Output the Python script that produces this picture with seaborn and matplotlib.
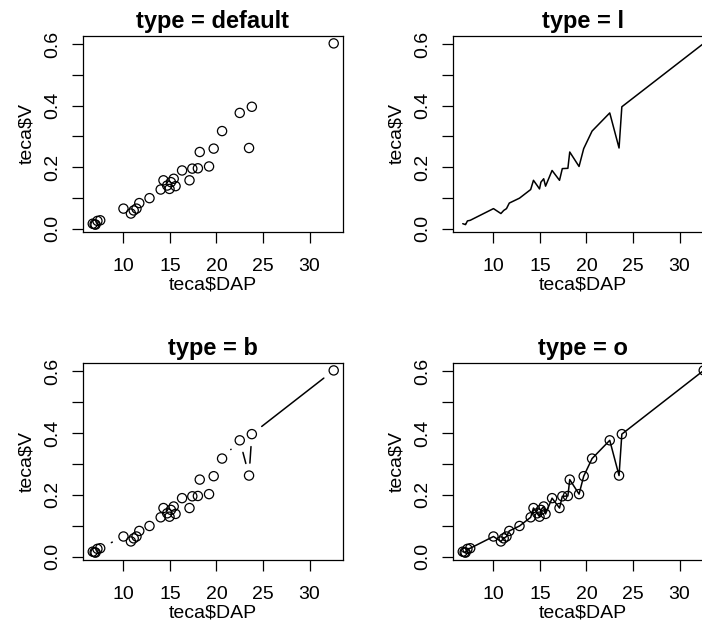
import numpy as np
import pandas as pd
import matplotlib
matplotlib.use("Agg")
import matplotlib.pyplot as plt
import seaborn as sns

# ---- data (teca dataset) ----
DAP = [6.7, 6.9, 7.0, 7.2, 7.5, 10.0, 10.8, 11.1, 11.4, 11.7, 12.8, 14.0, 14.3,
       14.7, 14.95, 15.1, 15.4, 15.6, 16.3, 17.1, 17.4, 18.0, 18.2, 19.2, 19.7,
       20.6, 22.5, 23.5, 23.8, 32.6]
V = [0.016, 0.014, 0.013, 0.025, 0.027, 0.065, 0.049, 0.059, 0.065, 0.083, 0.099,
     0.127, 0.157, 0.140, 0.129, 0.151, 0.162, 0.138, 0.189, 0.157, 0.195, 0.196,
     0.249, 0.202, 0.260, 0.317, 0.376, 0.262, 0.396, 0.602]
panel_types = ["default", "l", "b", "o"]
x_ticks = [10, 15, 20, 25, 30]
y_ticks = [0.0, 0.1, 0.2, 0.3, 0.4, 0.5, 0.6]
y_ticklabels = ["0.0", "", "0.2", "", "0.4", "", "0.6"]

teca = pd.DataFrame({"DAP": DAP, "V": V})

sns.set_theme(style="white")
plt.rcParams["font.family"] = ["Liberation Sans", "DejaVu Sans"]

W, H = 702, 624
fig = plt.figure(figsize=(W / 100, H / 100), dpi=100)

def frac(left, top, right, bottom):
    return [left / W, 1 - bottom / H, (right - left) / W, (bottom - top) / H]

positions = {
    "default": frac(83, 36, 343, 232),
    "l": frac(453, 36, 713, 232),
    "b": frac(83, 363, 343, 560),
    "o": frac(453, 363, 713, 560),
}

XLIM = (5.65, 33.6)
YLIM = (-0.011, 0.626)


def circles(ax):
    sns.scatterplot(data=teca, x="DAP", y="V", marker="o", s=44, color="black",
                    linewidth=0.9, ax=ax, zorder=3)
    coll = ax.collections[-1]
    coll.set_facecolor("none")
    coll.set_edgecolor("black")


def b_segments(ax, gap_px=12.5):
    trans = ax.transData
    inv = trans.inverted()
    pts = trans.transform(np.column_stack([teca["DAP"], teca["V"]]))
    rows = []
    for i in range(len(pts) - 1):
        p0, p1 = pts[i], pts[i + 1]
        d = p1 - p0
        L = np.hypot(d[0], d[1])
        if L > 2 * gap_px:
            u = d / L
            a = inv.transform(p0 + u * gap_px)
            b = inv.transform(p1 - u * gap_px)
            rows.append((i, a[0], a[1]))
            rows.append((i, b[0], b[1]))
    seg = pd.DataFrame(rows, columns=["seg", "x", "y"])
    sns.lineplot(data=seg, x="x", y="y", units="seg", estimator=None, sort=False,
                 color="black", linewidth=1.1, ax=ax)


for t in panel_types:
    ax = fig.add_axes(positions[t])
    ax.set_xlim(*XLIM)
    ax.set_ylim(*YLIM)
    if t == "default":
        circles(ax)
    elif t == "l":
        sns.lineplot(data=teca, x="DAP", y="V", sort=False, estimator=None,
                     color="black", linewidth=1.1, ax=ax)
    elif t == "b":
        circles(ax)
        b_segments(ax)
    elif t == "o":
        sns.lineplot(data=teca, x="DAP", y="V", sort=False, estimator=None,
                     color="black", linewidth=1.1, ax=ax)
        circles(ax)
    ax.set_xlim(*XLIM)
    ax.set_ylim(*YLIM)
    ax.set_xticks(x_ticks)
    ax.set_xticklabels([str(v) for v in x_ticks])
    ax.set_yticks(y_ticks)
    ax.set_yticklabels(y_ticklabels, rotation=90, va="center")
    ax.tick_params(axis="both", direction="out", length=8, width=0.9,
                   color="black", labelsize=14, labelcolor="black",
                   bottom=True, left=True, top=False, right=False)
    ax.tick_params(axis="x", pad=11)
    ax.tick_params(axis="y", pad=8)
    for s in ax.spines.values():
        s.set_visible(True)
        s.set_color("black")
        s.set_linewidth(0.9)
    ax.set_xlabel("teca$DAP", fontsize=14, color="black", labelpad=1)
    ax.set_ylabel("teca$V", fontsize=14, color="black", labelpad=6)
    ax.set_title(f"type = {t}", fontsize=17, fontweight="bold", color="black", pad=6)
    ax.grid(False)

fig.savefig("out.png", dpi=100)
